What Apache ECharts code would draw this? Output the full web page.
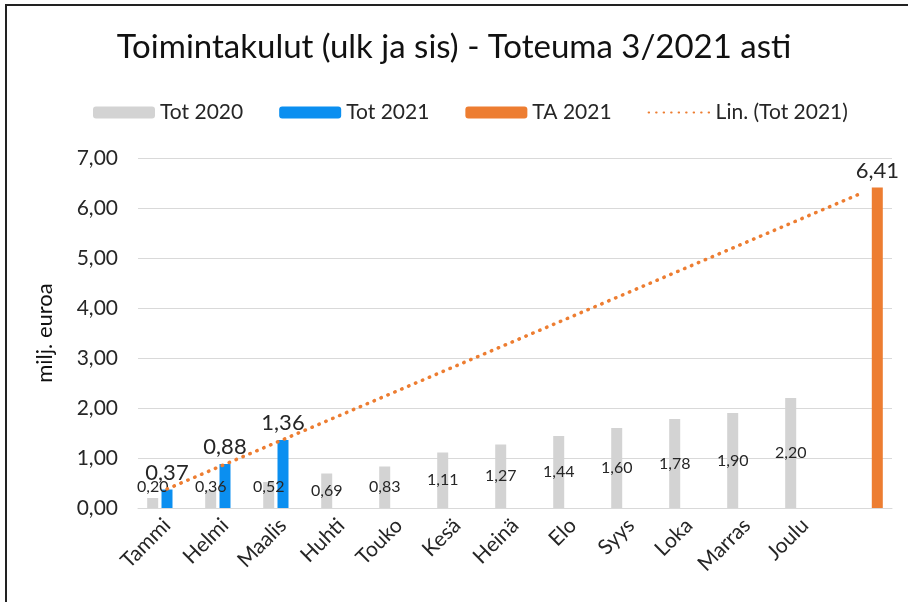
<!DOCTYPE html>
<html>
<head>
<meta charset="utf-8">
<script src="https://cdn.jsdelivr.net/npm/echarts@6/dist/echarts.min.js"></script>
<style>
  html, body { margin: 0; padding: 0; background: #fff; }
  #chart { width: 908px; height: 602px; }
</style>
</head>
<body>
<div id="chart"></div>
<script>
  // months + one empty slot for the TA bar
  const months = ['Tammi', 'Helmi', 'Maalis', 'Huhti', 'Touko', 'Kesä', 'Heinä', 'Elo', 'Syys', 'Loka', 'Marras', 'Joulu', ''];
  const tot2020 = [0.20, 0.36, 0.52, 0.69, 0.83, 1.11, 1.27, 1.44, 1.60, 1.78, 1.90, 2.20, null];
  const tot2021 = [0.37, 0.88, 1.36, null, null, null, null, null, null, null, null, null, null];
  const ta2021 = [null, null, null, null, null, null, null, null, null, null, null, null, 6.41];
  // trend line end points
  const trend2021 = [0.38, null, null, null, null, null, null, null, null, null, null, null, 6.31];

  const font = 'Lato, "Open Sans", sans-serif';
  const textColor = '#262626';
  const fmt = (v) => v.toFixed(2).replace('.', ',');

  const chart = echarts.init(document.getElementById('chart'));

  chart.setOption({
    textStyle: { fontFamily: font },
    title: {
      text: 'Toimintakulut (ulk ja sis) - Toteuma 3/2021 asti',
      left: 'center',
      top: 26,
      textStyle: { fontFamily: font, fontSize: 33, fontWeight: 'normal', color: '#111' },
    },
    legend: {
      left: 88,
      top: 97,
      itemWidth: 62,
      itemHeight: 12,
      itemGap: 36,
      textStyle: { fontFamily: font, fontSize: 21, color: textColor },
      data: [
        'Tot 2020',
        'Tot 2021',
        'TA 2021',
        { name: 'Lin. (Tot 2021)', itemStyle: { opacity: 0 } },
      ],
    },
    grid: { left: 138, right: 16, top: 158, bottom: 94 },
    xAxis: {
      type: 'category',
      data: months,
      axisTick: { show: false },
      axisLine: { lineStyle: { color: '#d9d9d9', width: 1 } },
      axisLabel: { rotate: 45, fontSize: 21, color: textColor, margin: 14, interval: 0 },
    },
    yAxis: {
      type: 'value',
      min: 0,
      max: 7,
      interval: 1,
      name: 'milj. euroa',
      nameLocation: 'middle',
      nameGap: 82,
      nameTextStyle: { fontFamily: font, fontSize: 22, color: '#111' },
      axisLabel: { fontSize: 21, color: textColor, margin: 20, formatter: fmt },
      splitLine: { lineStyle: { color: '#d9d9d9' } },
    },
    series: [
      {
        name: 'Tot 2020',
        type: 'bar',
        barWidth: 11,
        barGap: '30%',
        itemStyle: { color: '#d3d3d3' },
        data: tot2020.map((v) => ({
          value: v,
          label: v !== null && v < 0.6 ? { position: 'insideBottom', distance: 13 } : {},
        })),
        label: {
          show: true,
          position: 'inside',
          fontSize: 16,
          color: textColor,
          formatter: (p) => fmt(p.value),
        },
      },
      {
        name: 'Tot 2021',
        type: 'bar',
        barWidth: 11,
        barGap: '30%',
        itemStyle: { color: '#0b8ff0' },
        data: tot2021,
        label: {
          show: true,
          position: 'top',
          distance: 6,
          fontSize: 22,
          color: textColor,
          formatter: (p) => fmt(p.value),
        },
      },
      {
        name: 'TA 2021',
        type: 'bar',
        barWidth: 11,
        barGap: '30%',
        itemStyle: { color: '#ed7d31' },
        data: ta2021,
        label: {
          show: true,
          position: 'top',
          distance: 6,
          fontSize: 22,
          color: textColor,
          formatter: (p) => fmt(p.value),
        },
      },
      {
        name: 'Lin. (Tot 2021)',
        type: 'line',
        data: trend2021,
        connectNulls: true,
        symbol: 'none',
        lineStyle: { color: '#ed7d31', width: 3.5, type: [0.5, 7], cap: 'round' },
        itemStyle: { color: '#ed7d31' },
        z: 5,
      },
    ],
    graphic: [
      {
        type: 'polyline',
        shape: { points: [[6, 602], [6, 5], [908, 5]] },
        style: { stroke: '#222', lineWidth: 2, fill: null },
      },
    ],
  });
</script>
</body>
</html>
